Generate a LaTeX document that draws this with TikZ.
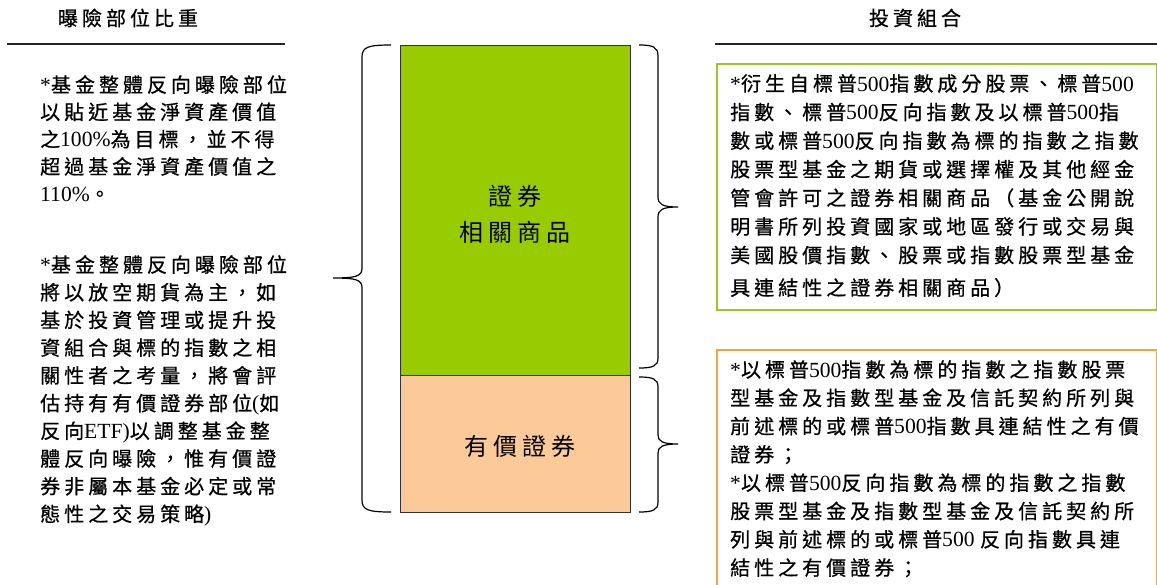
\documentclass[tikz,border=0pt]{standalone}
\usepackage{fontspec}
\setmainfont{Noto Sans CJK TC}[LetterSpace=20, FakeBold=0.7]
\newfontfamily\cjklight{Noto Sans CJK TC}[LetterSpace=20]
\newfontfamily\lt{Liberation Serif}[Scale=1.08]
\definecolor{barGreen}{HTML}{99CC00}
\definecolor{barPeach}{HTML}{FCCA98}
\definecolor{boxGreen}{HTML}{99CC22}
\definecolor{boxOrange}{HTML}{F8A33C}
\tikzset{
  txt/.style={inner sep=0pt, align=left, anchor=north west},
  body/.style={font=\fontsize{20}{#1}\selectfont},
  title/.style={inner sep=0pt, font=\fontsize{20}{24}\selectfont},
  bar/.style={draw=black!80, line width=0.8pt},
  brace/.style={draw=black, line width=1.2pt},
  rule/.style={draw=black!85, line width=1.5pt},
  big/.style={inner sep=0pt, align=center, font=\cjklight\fontsize{24}{36}\selectfont}
}
\begin{document}
\begin{tikzpicture}[x=1pt,y=-1pt]
\useasboundingbox (0,0) rectangle (1157,584);
\clip (0,0) rectangle (1157,584);

% titles and rules
\node[title] (tl) at (128,18) {曝險部位比重};
\node[title] (tr) at (915,18) {投資組合};
\coordinate (rl1) at (7,44); \coordinate (rl2) at (285,44);
\coordinate (rr1) at (715,44); \coordinate (rr2) at (1157,44);
\draw[rule] (rl1) -- (rl2);
\draw[rule] (rr1) -- (rr2);

% central bar
\node[bar, fill=barGreen, minimum width=230pt, minimum height=330pt, inner sep=0pt, anchor=north west] (g) at (400,45) {};
\node[bar, fill=barPeach, minimum width=230pt, minimum height=137pt, inner sep=0pt, anchor=north west] (o) at (400,375) {};
\node[big] (gl) at (515,214) {證券\\相關商品};
\node[big] (ol) at (520,446) {有價證券};

% braces
\draw[brace] (391,45) .. controls (368,45) and (362,47) .. (362,57) -- (362,268)
  .. controls (362,276) and (357,278) .. (333,278)
  .. controls (357,278) and (362,280) .. (362,288) -- (362,500)
  .. controls (362,510) and (368,512) .. (391,512);
\draw[brace] (639,45) .. controls (653,45) and (658,47) .. (658,56) -- (658,197)
  .. controls (658,204) and (662,207) .. (678,207)
  .. controls (662,207) and (658,210) .. (658,217) -- (658,358)
  .. controls (658,366) and (653,368) .. (639,368);
\draw[brace] (639,377) .. controls (653,377) and (658,379) .. (658,387) -- (658,435)
  .. controls (658,441) and (662,444) .. (678,444)
  .. controls (662,444) and (658,447) .. (658,453) -- (658,502)
  .. controls (658,510) and (653,512) .. (639,512);

% left texts
\node[txt, body=27.3] (l1) at (40,75) {%
{\lt *}基金整體反向曝險部位\\
以貼近基金淨資產價值\\
之{\lt 100\%}為目標，並不得\\
超過基金淨資產價值之\\
{\lt 110\%}。};

\node[txt, body=27.7] (l2) at (40,255) {%
{\lt *}基金整體反向曝險部位\\
將以放空期貨為主，如\\
基於投資管理或提升投\\
資組合與標的指數之相\\
關性者之考量，將會評\\
估持有有價證券部位{\lt (}如\\
反向{\lt ETF)}以調整基金整\\
體反向曝險，惟有價證\\
券非屬本基金必定或常\\
態性之交易策略{\lt )}};

% right boxes
\node[draw=boxGreen, line width=1.8pt, minimum width=440pt, minimum height=246pt, inner sep=0pt, anchor=north west] (gb) at (716,63) {};
\node[draw=boxOrange, line width=1.8pt, minimum width=440pt, minimum height=260pt, inner sep=0pt, anchor=north west] (ob) at (716,349) {};

\node[txt, body=28.6] (gt) at (730,74) {%
{\lt *}衍生自標普{\lt 500}指數成分股票、標普{\lt 500}\\
指數、標普{\lt 500}反向指數及以標普{\lt 500}指\\
數或標普{\lt 500}反向指數為標的指數之指數\\
股票型基金之期貨或選擇權及其他經金\\
管會許可之證券相關商品（基金公開說\\
明書所列投資國家或地區發行或交易與\\
美國股價指數、股票或指數股票型基金\\[4pt]
具連結性之證券相關商品）};

\node[txt, body=28.3] (ot) at (730,360) {%
{\lt *}以標普{\lt 500}指數為標的指數之指數股票\\
型基金及指數型基金及信託契約所列與\\
前述標的或標普{\lt 500}指數具連結性之有價\\
證券；\\
{\lt *}以標普{\lt 500}反向指數為標的指數之指數\\
股票型基金及指數型基金及信託契約所\\
列與前述標的或標普{\lt 500 }反向指數具連\\
結性之有價證券；};
\end{tikzpicture}
\end{document}
